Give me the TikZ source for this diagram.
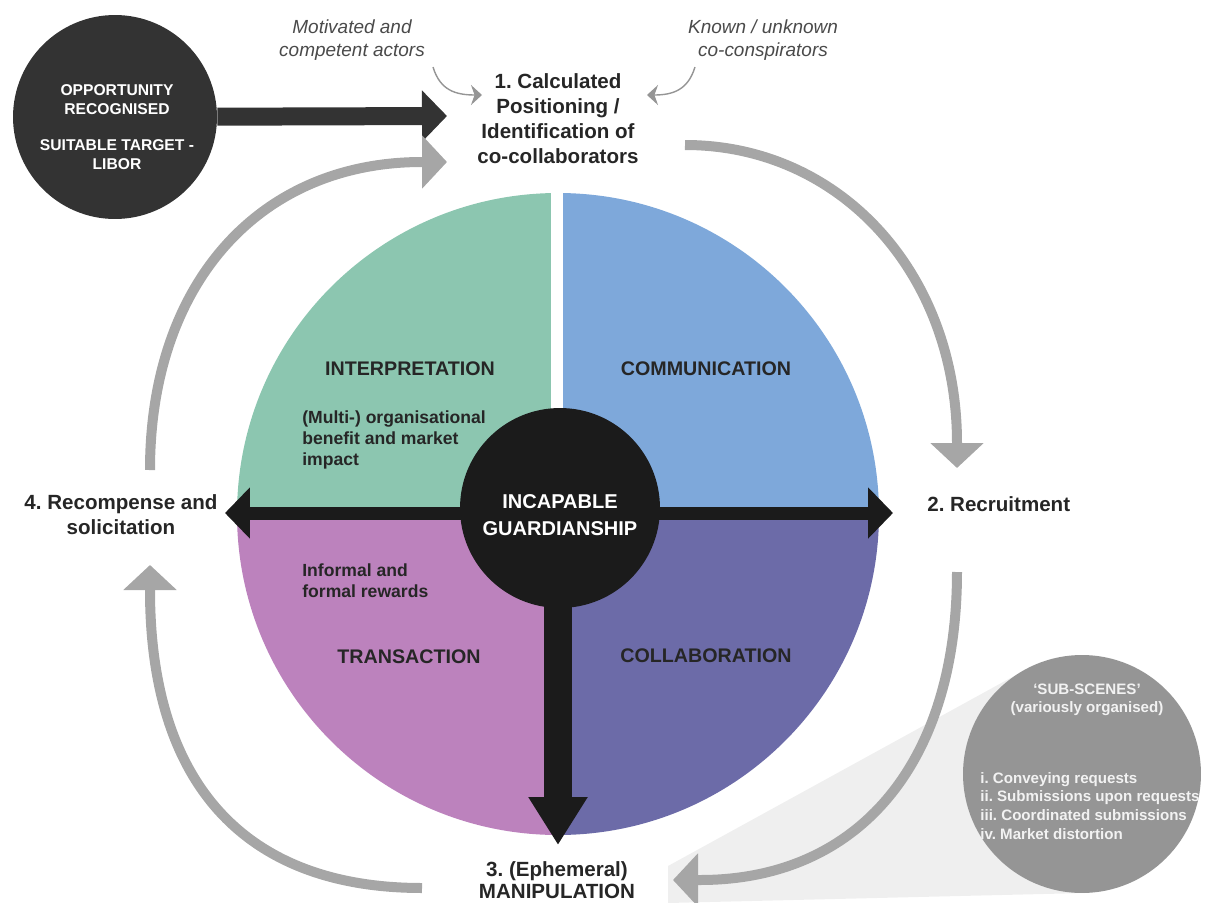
\documentclass[tikz,border=0pt]{standalone}
\usepackage{fontspec}
\setmainfont{Liberation Sans}
\usetikzlibrary{arrows.meta}
\definecolor{qgreen}{HTML}{8CC6B0}
\definecolor{qblue}{HTML}{7EA8DA}
\definecolor{qviolet}{HTML}{6C6BA8}
\definecolor{qpink}{HTML}{BC82BD}
\definecolor{arrowblk}{HTML}{1B1B1B}
\definecolor{oppgray}{HTML}{333333}
\definecolor{cycgray}{HTML}{A6A6A6}
\definecolor{subgray}{HTML}{959595}
\definecolor{wedgegray}{HTML}{EFEFEF}
\definecolor{txt}{HTML}{262626}
\definecolor{asidegray}{HTML}{4A4A4A}
\tikzset{
  stage/.style={font=\bfseries\fontsize{11.7}{14.2}\selectfont,text=txt,align=center,inner sep=0pt},
  qtitle/.style={font=\bfseries\fontsize{11.2}{13}\selectfont,text=txt,inner sep=0pt},
  qnote/.style={font=\bfseries\fontsize{10}{12}\selectfont,text=txt,align=left,inner sep=0pt,anchor=north west},
  aside/.style={font=\itshape\fontsize{10.8}{13}\selectfont,text=asidegray,align=center,inner sep=0pt},
  asidearrow/.style={draw=cycgray!90!black,line width=0.8pt,-{Stealth[length=0.22cm,width=0.4cm]}},
  cyc/.style={draw=cycgray,line width=0.2cm,-{Triangle[length=0.5cm,width=1.04cm]}},
  subtext/.style={font=\bfseries\fontsize{8.6}{10.6}\selectfont,text=white!95!black,inner sep=0pt}
}
\begin{document}
\frenchspacing
\begin{tikzpicture}[x=0.02cm,y=-0.02cm]
  \def\rwheel{321}
  \useasboundingbox (0,0) rectangle (1208,903);
  \coordinate (ctr) at (558,514);
  % wedge and sub-scenes
  \fill[wedgegray] (668,866) -- (1025,670) -- (1085,893) -- (668,903) -- cycle;
  \node[circle,fill=subgray,minimum size=4.76cm,inner sep=0pt] (subs) at (1082,774) {};
  \node[subtext,align=center] (subhead) at (1087,700) {`SUB-SCENES'\\(variously organised)};
  \node[subtext,align=left,anchor=north west] (sublist) at (980,772) {i. Conveying requests\\ii. Submissions upon requests\\iii. Coordinated submissions\\iv. Market distortion};
  % the wheel
  \foreach \col/\a in {qgreen/180,qblue/270,qviolet/0,qpink/90}
    \fill[\col] (ctr) -- ++(\a:\rwheel) arc[start angle=\a,delta angle=90,radius=\rwheel] -- cycle;
  \draw[white,line width=0.24cm] (557,185) -- (557,520);
  \node[qtitle] (interp) at (410,369) {INTERPRETATION};
  \node[qtitle] (comm) at (706,369) {COMMUNICATION};
  \node[qtitle] (trans) at (409,657) {TRANSACTION};
  \node[qtitle] (collab) at (706,656) {COLLABORATION};
  \node[qnote] (benefit) at (302,410) {(Multi-) organisational\\benefit and market\\impact};
  \node[qnote] (rewards) at (302,563) {Informal and\\formal rewards};
  % guardianship arrows
  \coordinate (tipW) at (225,513);
  \coordinate (tipE) at (893,513);
  \coordinate (tipS) at (558,845);
  \draw[arrowblk,line width=0.26cm,{Triangle[length=0.5cm,width=1cm]}-{Triangle[length=0.5cm,width=1cm]}] (tipW) -- (tipE);
  \draw[arrowblk,line width=0.56cm,-{Triangle[length=0.96cm,width=1.12cm]}] (ctr) -- (tipS);
  \node[circle,fill=arrowblk,minimum size=4cm,inner sep=0pt] (guard) at (560,508) {};
  \node[font=\bfseries\fontsize{11.4}{15}\selectfont,text=white,align=center,inner sep=0pt] (guardlbl) at (560,515) {INCAPABLE\\GUARDIANSHIP};
  % opportunity
  \node[circle,fill=oppgray,minimum size=4.08cm,inner sep=0pt] (opp) at (115,117) {};
  \node[font=\bfseries\fontsize{8.9}{10.8}\selectfont,text=white,align=center,inner sep=0pt] (opplbl) at (117,127) {OPPORTUNITY\\RECOGNISED\\[10pt]SUITABLE TARGET -\\LIBOR};
  \coordinate (opptip) at (447,116);
  \draw[oppgray,line width=0.36cm,-{Triangle[length=0.5cm,width=1cm]}] (opp) -- (opptip);
  % stages
  \node[stage] (s1) at (558,119) {1. Calculated\\Positioning /\\Identification of\\co-collaborators};
  \node[stage,anchor=west] (s2) at (927,504) {2. Recruitment};
  \node[stage,font=\bfseries\fontsize{11.7}{12.8}\selectfont] (s3) at (557,880) {3. (Ephemeral)\\MANIPULATION};
  \node[stage] (s4) at (121,515) {4. Recompense and\\solicitation};
  % cycle
  \coordinate (c1a) at (685,145); \coordinate (c1b) at (957,443); \coordinate (c1t) at (957,468);
  \coordinate (c2a) at (957,572); \coordinate (c2b) at (700,880); \coordinate (c2t) at (673,880);
  \coordinate (c3a) at (422,888); \coordinate (c3b) at (150,590); \coordinate (c3t) at (150,565);
  \coordinate (c4a) at (150,470); \coordinate (c4b) at (422,162); \coordinate (c4t) at (447,162);
  \draw[cyc] (c1a) .. controls (840,145) and (957,273) .. (c1b) -- (c1t);
  \draw[cyc] (c2a) .. controls (957,763) and (859,880) .. (c2b) -- (c2t);
  \draw[cyc] (c3a) .. controls (245,888) and (150,784) .. (c3b) -- (c3t);
  \draw[cyc] (c4a) .. controls (150,284) and (259,162) .. (c4b) -- (c4t);
  % asides
  \node[aside] (actors) at (352,40) {Motivated and\\competent actors};
  \node[aside] (conspire) at (763,40) {Known / unknown\\co-conspirators};
  \coordinate (a1) at (433,67); \coordinate (a1t) at (482,95);
  \coordinate (a2) at (695,67); \coordinate (a2t) at (647,95);
  \draw[asidearrow] (a1) .. controls (440,90) and (455,95) .. (a1t);
  \draw[asidearrow] (a2) .. controls (688,90) and (673,95) .. (a2t);
\end{tikzpicture}
\end{document}
